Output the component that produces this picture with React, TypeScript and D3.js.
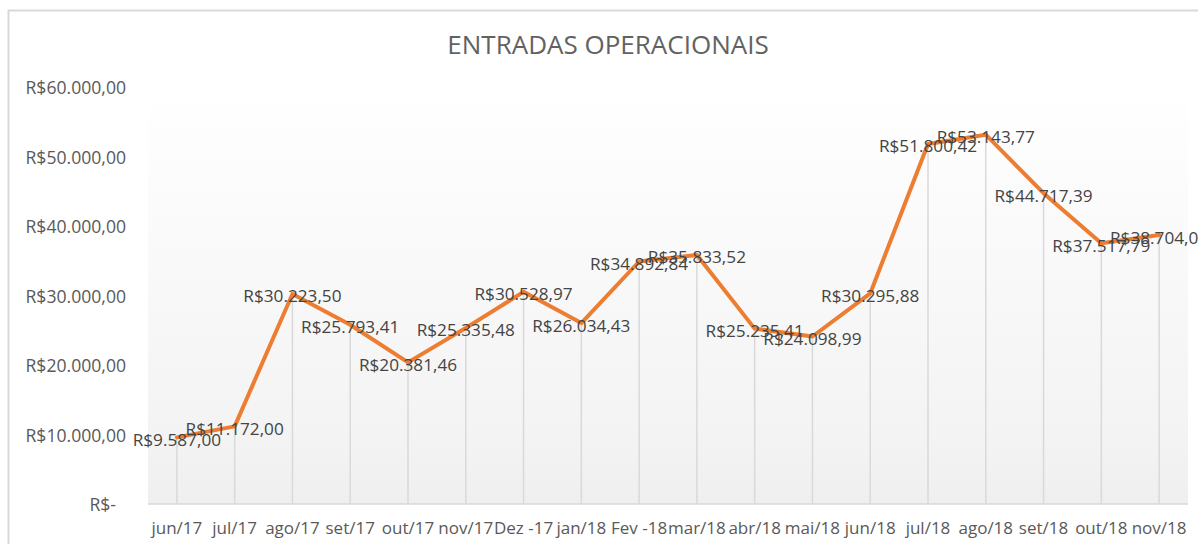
import React from "react";
import * as d3 from "d3";

const months = [
  "jun/17", "jul/17", "ago/17", "set/17", "out/17", "nov/17", "Dez -17", "jan/18", "Fev -18",
  "mar/18", "abr/18", "mai/18", "jun/18", "jul/18", "ago/18", "set/18", "out/18", "nov/18",
];
const values = [
  9587.0, 11172.0, 30223.5, 25793.41, 20381.46, 25335.48, 30528.97, 26034.43, 34892.84,
  35833.52, 25235.41, 24098.99, 30295.88, 51800.42, 53143.77, 44717.39, 37517.79, 38704.0,
];
const yTicks = [0, 10000, 20000, 30000, 40000, 50000, 60000];
const title = "ENTRADAS OPERACIONAIS";

const W = 1198;
const H = 544;
const FONT = "'Open Sans', 'Noto Sans', sans-serif";

const brl = (v: number) => {
  if (v === 0) return "R$-";
  const [i, d] = v.toFixed(2).split(".");
  const ip = i.replace(/\B(?=(\d{3})+(?!\d))/g, ".");
  return `R$${ip},${d}`;
};

export default function App() {
  const left = 148;
  const right = 1188;
  const top = 87;
  const bottom = 504;
  const x = d3.scalePoint<string>().domain(months).range([left, right]).padding(0.5);
  const y = d3.scaleLinear().domain([0, 60000]).range([bottom, top]);
  const line = d3
    .line<number>()
    .x((_, i) => x(months[i]) as number)
    .y((v) => y(v));

  return (
    <svg
      width={W}
      height={H}
      style={{ position: "absolute", left: 0, top: 0, background: "#fff" }}
    >
      <defs>
        <linearGradient id="bg" x1="0" y1="0" x2="0" y2="1">
          <stop offset="0" stopColor="#ffffff" />
          <stop offset="0.85" stopColor="#f3f3f3" />
          <stop offset="1" stopColor="#efefef" />
        </linearGradient>
      </defs>
      <rect x={8.5} y={10.5} width={W + 20} height={H + 20} fill="#fff" stroke="#d9d9d9" strokeWidth={2} />
      <text
        x={608}
        y={44}
        textAnchor="middle"
        dominantBaseline="central"
        fontFamily={FONT}
        fontSize={26}
        fill="#626262"
      >
        {title}
      </text>
      <rect x={left} y={top} width={right - left} height={bottom - top} fill="url(#bg)" />
      {yTicks.map((t) => (
        <text
          key={t}
          x={t === 0 ? 116 : 126}
          y={y(t)}
          textAnchor="end"
          dominantBaseline="central"
          fontFamily={FONT}
          fontSize={17.6}
          fill="#595959"
        >
          {brl(t)}
        </text>
      ))}
      {values.map((v, i) => (
        <line
          key={"d" + i}
          x1={x(months[i])}
          x2={x(months[i])}
          y1={y(v)}
          y2={bottom}
          stroke="#d9d9d9"
          strokeWidth={1.5}
        />
      ))}
      <line x1={left} x2={right} y1={bottom} y2={bottom} stroke="#d9d9d9" strokeWidth={1.5} />
      {months.map((m) => (
        <text
          key={m}
          x={x(m)}
          y={527}
          textAnchor="middle"
          dominantBaseline="central"
          fontFamily={FONT}
          fontSize={17}
          fill="#595959"
        >
          {m}
        </text>
      ))}
      <path
        d={line(values) || ""}
        fill="none"
        stroke="#ED7D31"
        strokeWidth={4}
        strokeLinejoin="round"
        strokeLinecap="round"
      />
      {values.map((v, i) => (
        <text
          key={"l" + i}
          x={x(months[i])}
          y={y(v) + 2}
          textAnchor="middle"
          dominantBaseline="central"
          fontFamily={FONT}
          fontSize={17.2}
          fill="#444444"
        >
          {brl(v)}
        </text>
      ))}
    </svg>
  );
}
